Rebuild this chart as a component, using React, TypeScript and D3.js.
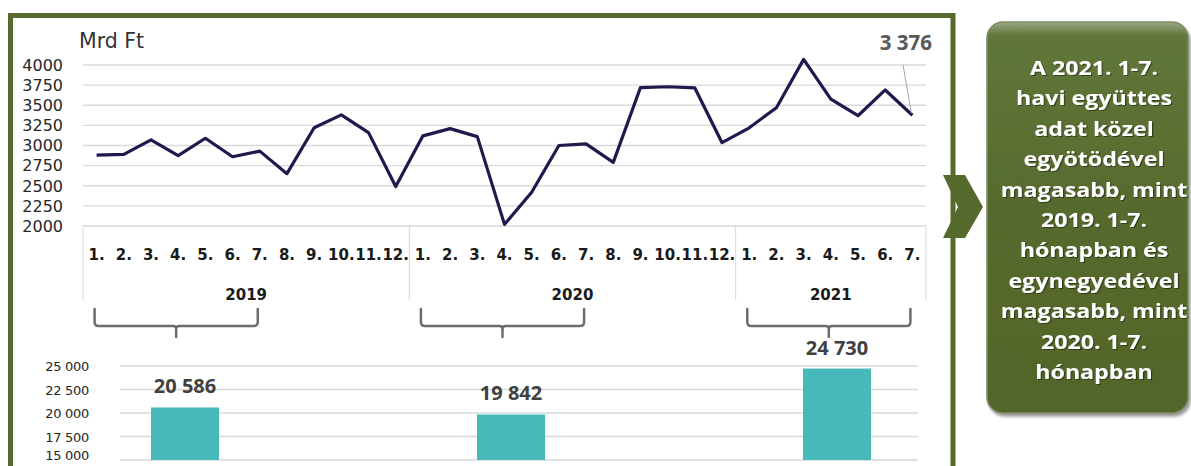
import React from 'react';
import * as d3 from 'd3';

const years = ['2019', '2020', '2021'];
const monthLabels = ['1.', '2.', '3.', '4.', '5.', '6.', '7.', '8.', '9.', '10.', '11.', '12.'];
const values2019 = [2880, 2890, 3070, 2875, 3090, 2860, 2930, 2650, 3220, 3380, 3160, 2490];
const values2020 = [3120, 3210, 3110, 2020, 2420, 3000, 3020, 2790, 3720, 3730, 3715, 3035];
const values2021 = [3220, 3470, 4070, 3575, 3370, 3690, 3376];
const yTicks = [2000, 2250, 2500, 2750, 3000, 3250, 3500, 3750, 4000];
const totals = [20586, 19842, 24730];
const barTicks = [15000, 17500, 20000, 22500, 25000];
const unitLabel = 'Mrd Ft';
const calloutLines = [
  'A 2021. 1-7.',
  'havi együttes',
  'adat közel',
  'egyötödével',
  'magasabb, mint',
  '2019. 1-7.',
  'hónapban és',
  'egynegyedével',
  'magasabb, mint',
  '2020. 1-7.',
  'hónapban',
];

const GREEN = '#566a2d';
const fmt = d3.formatLocale({ decimal: ',', thousands: ' ', grouping: [3], currency: ['', ''] }).format(',');

type Pt = { key: string; year: string; month: string; value: number };

export default function App() {
  const series = [values2019, values2020, values2021];
  const pts: Pt[] = [];
  series.forEach((vals, yi) => {
    vals.forEach((v, mi) => pts.push({ key: `${years[yi]}-${mi}`, year: years[yi], month: monthLabels[mi], value: v }));
  });

  const x = d3.scaleBand<string>().domain(pts.map((p) => p.key)).range([83, 926]).padding(0);
  const bw = x.bandwidth();
  const cx = (k: string) => (x(k) as number) + bw / 2;
  const y = d3.scaleLinear().domain([2000, 4000]).range([226, 65]);
  const line = d3
    .line<Pt>()
    .x((d) => cx(d.key))
    .y((d) => y(d.value));

  const groups = years.map((yr) => {
    const g = pts.filter((p) => p.year === yr);
    const x0 = x(g[0].key) as number;
    const x1 = (x(g[g.length - 1].key) as number) + bw;
    const first7 = g.slice(0, 7);
    return { yr, x0, x1, bx0: cx(first7[0].key) - 2, bx1: cx(first7[6].key) - 2 };
  });

  const yb = d3.scaleLinear().domain([15000, 25000]).range([460, 366]);
  const xb = d3.scalePoint<string>().domain(years).range([185, 837]);
  const barW = 68;

  const last = pts[pts.length - 1];

  const bracketPath = (a: number, b: number) => {
    const top = 309;
    const mid = 326;
    const r = 4;
    const c = (a + b) / 2;
    return `M${a},${top} L${a},${mid - r} Q${a},${mid} ${a + r},${mid} L${c - 3},${mid} Q${c},${mid} ${c},${mid + 3} L${c},${337} M${c},${mid + 3} Q${c},${mid} ${c + 3},${mid} L${b - r},${mid} Q${b},${mid} ${b},${mid - r} L${b},${top}`;
  };

  const boxCx = 1094;

  return (
    <svg
      width={1191}
      height={466}
      style={{ position: 'absolute', left: 0, top: 0, display: 'block', background: '#fff' }}
      fontFamily="DejaVu Sans, sans-serif"
    >
      <defs>
        <linearGradient id="boxg" x1="0" y1="0" x2="0" y2="1">
          <stop offset="0" stopColor="#9aa784" />
          <stop offset="0.035" stopColor="#62763a" />
          <stop offset="0.5" stopColor="#566a2d" />
          <stop offset="1" stopColor="#52652a" />
        </linearGradient>
        <filter id="tsh" x="-10%" y="-10%" width="120%" height="130%">
          <feDropShadow dx="1" dy="1" stdDeviation="0.6" floodColor="#000" floodOpacity="0.45" />
        </filter>
        <filter id="bsh" x="-10%" y="-10%" width="120%" height="120%">
          <feDropShadow dx="2" dy="3" stdDeviation="1.5" floodColor="#555" floodOpacity="0.6" />
        </filter>
      </defs>

      {/* frame */}
      <path d={`M10.5,470 L10.5,15.5 L953,15.5 L953,470`} fill="none" stroke={GREEN} strokeWidth={5} />

      {/* line chart gridlines */}
      {yTicks.map((t) => (
        <g key={t}>
          <line x1={83} x2={926} y1={y(t)} y2={y(t)} stroke="#d9d9d9" strokeWidth={1.3} />
          <text x={63} y={y(t)} dy="0.36em" textAnchor="end" fontSize={16} fill="#262626">
            {t}
          </text>
        </g>
      ))}
      <text x={79} y={48} fontSize={20.5} fill="#333">
        {unitLabel}
      </text>

      {/* category separators */}
      {[groups[0].x0, ...groups.map((g) => g.x1)].map((sx, i) => (
        <line key={i} x1={sx} x2={sx} y1={226} y2={300} stroke="#d9d9d9" strokeWidth={1} />
      ))}
      {pts.map((p) => (
        <text key={p.key} x={cx(p.key)} y={260} textAnchor="middle" fontSize={15} fontWeight="bold" fill="#1a1a1a">
          {p.month}
        </text>
      ))}
      {groups.map((g) => (
        <text key={g.yr} x={(g.x0 + g.x1) / 2} y={300} textAnchor="middle" fontSize={15} fontWeight="bold" fill="#1a1a1a">
          {g.yr}
        </text>
      ))}

      {/* line */}
      <path d={line(pts) || ''} fill="none" stroke="#1f1a4d" strokeWidth={3.2} strokeLinejoin="round" />

      {/* last point label */}
      <line x1={903} y1={65} x2={cx(last.key) - 1} y2={y(last.value) - 2} stroke="#a6a6a6" strokeWidth={1} />
      <text x={932} y={50} textAnchor="end" fontFamily="Open Sans, sans-serif" fontWeight="bold" fontSize={20.5} fill="#595959">
        {fmt(last.value)}
      </text>

      {/* brackets */}
      {groups.map((g) => (
        <path key={g.yr} d={bracketPath(g.bx0, g.bx1)} fill="none" stroke="#6d6d6d" strokeWidth={2.5} strokeLinecap="round" />
      ))}

      {/* bar chart */}
      {barTicks.map((t) => (
        <g key={t}>
          <line x1={120} x2={918} y1={yb(t)} y2={yb(t)} stroke="#d9d9d9" strokeWidth={1.3} />
          <text x={89} y={Math.min(yb(t) + 5, 460)} textAnchor="end" fontSize={13} fill="#262626" letterSpacing={-0.3}>
            {fmt(t)}
          </text>
        </g>
      ))}
      {totals.map((v, i) => {
        const bx = xb(years[i]) as number;
        return (
          <g key={years[i]}>
            <rect x={bx - barW / 2} y={yb(v)} width={barW} height={yb(15000) - yb(v)} fill="#47b9bb" />
            <text
              x={bx}
              y={yb(v) - 14}
              textAnchor="middle"
              fontFamily="Open Sans, sans-serif"
              fontWeight="bold"
              fontSize={20}
              fill="#404040"
            >
              {fmt(v)}
            </text>
          </g>
        );
      })}

      {/* chevron */}
      <path d="M943,175 L965,175 L983,207 L965,238 L943,238 L958,207 Z" fill={GREEN} />

      {/* callout box */}
      <rect x={987} y={22} width={201} height={391} rx={16} fill="url(#boxg)" stroke="#7d8c68" strokeWidth={1.5} filter="url(#bsh)" />
      <g transform={`translate(${boxCx},0) scale(1.22,1)`}>
        {calloutLines.map((l, i) => (
          <text
            key={i}
            x={0}
            y={75 + i * 30.4}
            textAnchor="middle"
            fontFamily="Open Sans, sans-serif"
            fontWeight="bold"
            fontSize={19}
            fill="#fff"
            filter="url(#tsh)"
          >
            {l}
          </text>
        ))}
      </g>
    </svg>
  );
}
